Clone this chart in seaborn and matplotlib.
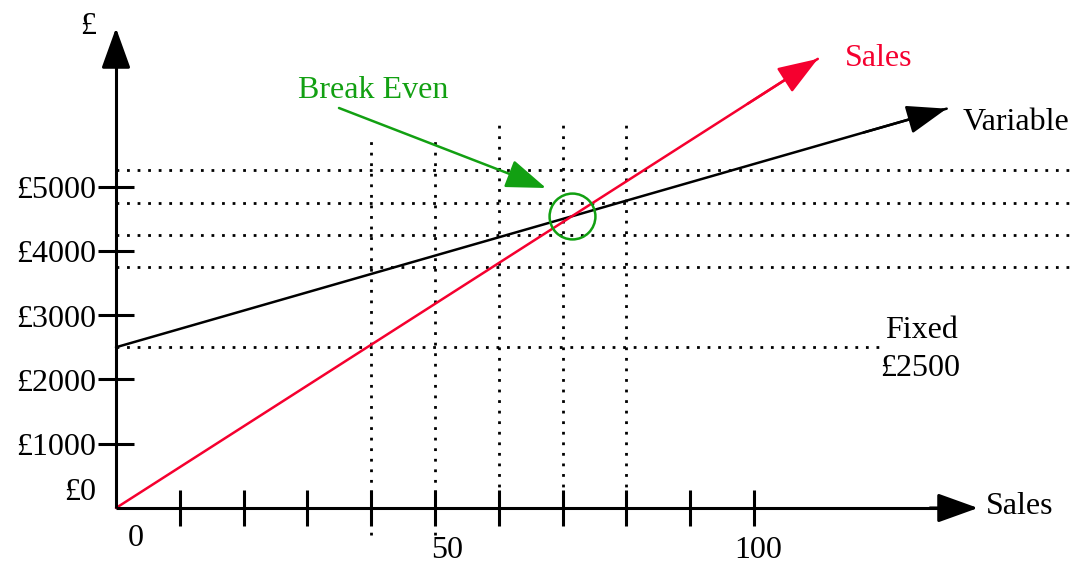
import numpy as np
import pandas as pd
import matplotlib
matplotlib.use("Agg")
import matplotlib.pyplot as plt
import seaborn as sns

# ---------------- data ----------------
fixed_cost = 2500            # £
unit_price = 63.5            # £ per unit (sales line)
unit_variable_cost = 28.5    # £ per unit (variable cost line)
sales_line_end = 110         # units where the sales arrow ends
variable_line_end = 130.2    # units where the variable-cost arrow ends

x_tick_units = [10, 20, 30, 40, 50, 60, 70, 80, 90, 100]
x_tick_labels = ["0", "50", "100"]
x_tick_label_units = [0, 50, 100]
y_tick_values = [1000, 2000, 3000, 4000, 5000]
y_tick_labels = ["£0", "£1000", "£2000", "£3000", "£4000", "£5000"]
y_tick_label_values = [0, 1000, 2000, 3000, 4000, 5000]

guide_levels = [3750, 4250, 4750, 5250]     # horizontal dotted guides (£)
guide_units_low = [40, 50]                  # vertical dotted guides (units)
guide_units_high = [60, 70, 80]

# ---------------- style ----------------
sns.set_theme(style="white")
plt.rcParams["font.family"] = ["Liberation Serif", "DejaVu Serif"]
plt.rcParams["text.color"] = "black"

RED = "#F5002F"
GREEN = "#12A012"
BLACK = "black"
FS = 23
TY = 4  # pixel shift of text baseline

W, H = 1077, 565
X0PX, Y0PX = 116, 508
XS, YS = 6.38, 0.0643


def dx(px):
    return (px - X0PX) / XS


def dy(py):
    return (Y0PX - py) / YS


def ty_(py):
    return dy(py + TY)


fig = plt.figure(figsize=(W / 100, H / 100), dpi=100)
ax = fig.add_axes([0, 0, 1, 1])
ax.set_xlim(dx(0), dx(W))
ax.set_ylim(dy(H), dy(0))
ax.axis("off")

head = "-|>,head_length=1.25,head_width=0.45"


def arrow(x0, y0, x1, y1, color, lw):
    ax.annotate("", xy=(x1, y1), xytext=(x0, y0),
                arrowprops=dict(arrowstyle=head, mutation_scale=20, color=color,
                                lw=lw, shrinkA=0, shrinkB=0), zorder=6)


# dotted guides
dot = (0, (1, 2.8))
ax.hlines(guide_levels, 0, dx(W), colors=BLACK, linestyles=dot, lw=2, zorder=1)
ax.hlines([fixed_cost], 0, dx(883), colors=BLACK, linestyles=dot, lw=2, zorder=1)
ax.vlines(guide_units_low, dy(535), dy(140), colors=BLACK, linestyles=dot, lw=2, zorder=1)
ax.vlines(guide_units_high, 0, dy(124), colors=BLACK, linestyles=dot, lw=2, zorder=1)

# axes with arrows
ax.plot([0, 0], [0, dy(40)], color=BLACK, lw=2.2, solid_capstyle="butt", zorder=5)
arrow(0, dy(60), 0, dy(28), BLACK, 2.2)
ax.plot([0, dx(950)], [0, 0], color=BLACK, lw=2.2, solid_capstyle="butt", zorder=5)
arrow(dx(930), 0, dx(978), 0, BLACK, 2.2)

# ticks
tx = 18 / XS
ty = 18 / YS
ax.vlines(x_tick_units, -ty, ty, colors=BLACK, lw=2.2, zorder=5)
ax.hlines(y_tick_values, -tx, tx, colors=BLACK, lw=2.2, zorder=5)

# tick labels
for v, lab in zip(y_tick_label_values, y_tick_labels):
    py = Y0PX - v * YS if v > 0 else 488
    ax.text(dx(96), ty_(py), lab, ha="right", va="center", fontsize=FS, color=BLACK)
x_label_px_offsets = {0: (20, 534), 50: (12, 546), 100: (4, 546)}
for u, lab in zip(x_tick_label_units, x_tick_labels):
    ox, py = x_label_px_offsets[u]
    ax.text(u + ox / XS, ty_(py), lab, ha="center", va="center", fontsize=FS, color=BLACK)

ax.text(dx(88), ty_(23), "£", ha="center", va="center", fontsize=FS, color=BLACK)
ax.text(dx(986), ty_(503), "Sales", ha="left", va="center", fontsize=FS, color=BLACK)

# cost and revenue lines (seaborn)
sales_df = pd.DataFrame({"units": [0, sales_line_end],
                         "value": [0, unit_price * sales_line_end]})
var_df = pd.DataFrame({"units": [0, variable_line_end],
                       "value": [fixed_cost, fixed_cost + unit_variable_cost * variable_line_end]})
sns.lineplot(data=var_df, x="units", y="value", color=BLACK, lw=1.8, ax=ax, zorder=3)
sns.lineplot(data=sales_df, x="units", y="value", color=RED, lw=1.8, ax=ax, zorder=4)

arrow(sales_line_end * 0.9, unit_price * sales_line_end * 0.9,
      sales_line_end, unit_price * sales_line_end, RED, 1.8)
arrow(variable_line_end * 0.9, fixed_cost + unit_variable_cost * variable_line_end * 0.9,
      variable_line_end, fixed_cost + unit_variable_cost * variable_line_end, BLACK, 1.8)

ax.text(dx(845), ty_(55), "Sales", ha="left", va="center", fontsize=FS, color=RED)
ax.text(dx(963), ty_(119), "Variable", ha="left", va="center", fontsize=FS, color=BLACK)
ax.text(dx(922), ty_(327), "Fixed", ha="center", va="center", fontsize=FS, color=BLACK)
ax.text(dx(920), ty_(365), "£2500", ha="center", va="center", fontsize=FS, color=BLACK)

# break-even
be_units = fixed_cost / (unit_price - unit_variable_cost)
be_value = unit_price * be_units
ax.plot([be_units], [be_value], marker="o", ms=33, mfc="none", mec=GREEN, mew=1.8, zorder=6)
arrow(dx(339), dy(108), dx(546), dy(188), GREEN, 1.8)
ax.text(dx(298), ty_(86), "Break Even", ha="left", va="center", fontsize=FS, color=GREEN)

fig.savefig("out.png", dpi=100)
